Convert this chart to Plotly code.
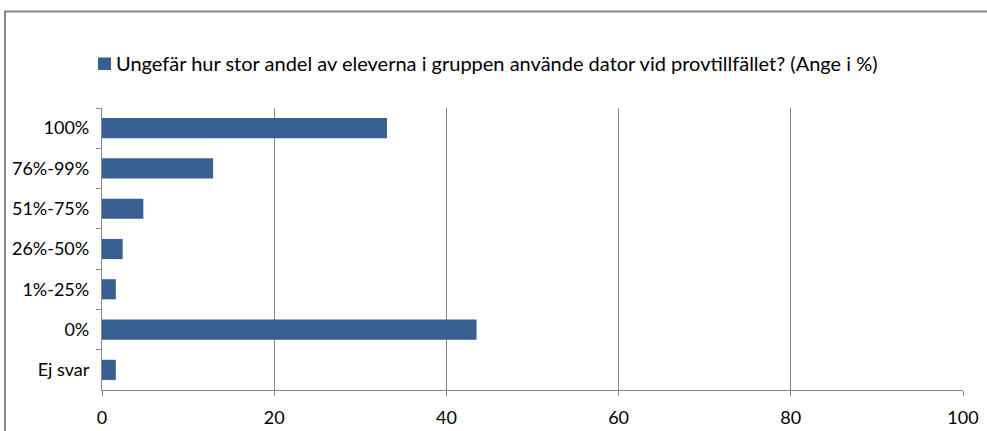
import plotly.graph_objects as go

# Response categories, top to bottom
categories = ["100%", "76%-99%", "51%-75%", "26%-50%", "1%-25%", "0%", "Ej svar"]
# Share of answers (%)
values = [33.1, 12.9, 4.8, 2.4, 1.6, 43.5, 1.6]
series_name = "Ungefär hur stor andel av eleverna i gruppen använde dator vid provtillfället? (Ange i %)"
x_ticks = [0, 20, 40, 60, 80, 100]

BAR = "#385F92"
GRID = "#878787"
FONT = dict(family="Lato, sans-serif", size=18, color="#000000")
LEGEND_FONT = dict(family="Lato, sans-serif", size=20, color="#000000")

W, H = 987, 431
L, R, T, B = 102, 24, 108, 41
pw, ph = W - L - R, H - T - B


def px(xpix):
    return (xpix - L) / pw


def py(ypix):
    return (H - B - ypix) / ph


fig = go.Figure(
    go.Bar(
        x=values,
        y=categories,
        orientation="h",
        marker=dict(color=BAR, line=dict(width=0)),
        width=0.5,
        name=series_name,
        showlegend=False,
        hoverinfo="x+y",
    )
)

fig.update_layout(
    width=W,
    height=H,
    margin=dict(l=L, r=R, t=T, b=B, autoexpand=False),
    paper_bgcolor="white",
    plot_bgcolor="white",
    font=FONT,
    xaxis=dict(
        range=[0, 100],
        tickvals=x_ticks,
        ticktext=[str(v) for v in x_ticks],
        showgrid=True,
        gridcolor=GRID,
        gridwidth=1.3,
        zeroline=False,
        showline=True,
        linecolor=GRID,
        linewidth=1.3,
        ticks="outside",
        ticklen=5,
        tickcolor=GRID,
        tickwidth=1.3,
        ticklabelstandoff=6,
        automargin=False,
        fixedrange=True,
    ),
    yaxis=dict(
        type="category",
        categoryorder="array",
        categoryarray=categories,
        autorange="reversed",
        tickson="boundaries",
        showgrid=False,
        showline=True,
        linecolor=GRID,
        linewidth=1.3,
        ticks="outside",
        ticklen=5,
        tickcolor=GRID,
        tickwidth=1.3,
        ticklabelstandoff=8,
        automargin=False,
        fixedrange=True,
    ),
    shapes=[
        # outer chart frame (left and top edges)
        dict(
            type="path",
            xref="paper",
            yref="paper",
            path=f"M {px(5)},{py(H + 5)} L {px(5)},{py(11.5)} L {px(W + 5)},{py(11.5)}",
            line=dict(color=GRID, width=2),
        ),
        # legend swatch
        dict(
            type="rect",
            xref="paper",
            yref="paper",
            x0=px(98),
            x1=px(111),
            y0=py(70),
            y1=py(57.5),
            fillcolor=BAR,
            line=dict(width=0),
        ),
    ],
    annotations=[
        dict(
            text=series_name,
            xref="paper",
            yref="paper",
            x=px(114),
            y=py(63),
            xanchor="left",
            yanchor="middle",
            showarrow=False,
            font=LEGEND_FONT,
        )
    ],
)

fig.write_html("out.html")
